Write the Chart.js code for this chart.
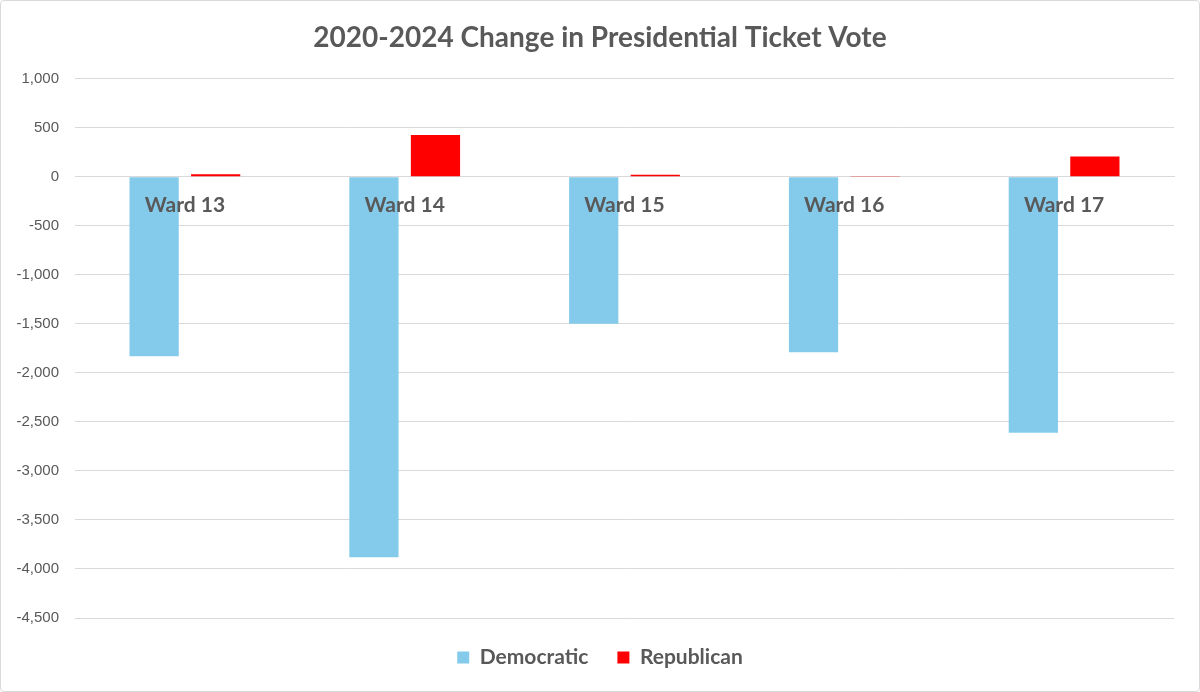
<!DOCTYPE html>
<html>
<head>
<meta charset="utf-8">
<title>2020-2024 Change in Presidential Ticket Vote</title>
<script src="https://cdn.jsdelivr.net/npm/chart.js@4.4.1/dist/chart.umd.min.js"></script>
<style>
  html, body { margin: 0; padding: 0; background: #fff; }
  #wrap {
    width: 1200px; height: 692px; box-sizing: border-box;
    border: 1px solid #d9d9d9; border-radius: 4px; position: relative;
  }
  canvas { display: block; }
</style>
</head>
<body>
<div id="wrap"><canvas id="voteChart"></canvas></div>
<script>
  // --- Data ---
  const wards = ["Ward 13", "Ward 14", "Ward 15", "Ward 16", "Ward 17"];
  const demChange = [-1830, -3880, -1500, -1790, -2610];
  const repChange = [25, 425, 20, 8, 205];

  const textColor = "#595959";
  const gridColor = "#d9d9d9";

  const ctxEl = document.getElementById("voteChart");

  new Chart(ctxEl, {
    type: "bar",
    data: {
      labels: wards,
      datasets: [
        { label: "Democratic", data: demChange, backgroundColor: "#84cbeb" },
        { label: "Republican", data: repChange, backgroundColor: "#ff0000" }
      ]
    },
    options: {
      responsive: true,
      maintainAspectRatio: false,
      animation: false,
      // symmetric padding so the title stays centred on the canvas
      layout: { padding: { top: 20, left: 12, right: 12, bottom: 13 } },
      datasets: { bar: { categoryPercentage: 0.56, barPercentage: 0.8 } },
      plugins: {
        title: {
          display: true,
          text: "2020-2024 Change in Presidential Ticket Vote",
          color: textColor,
          font: { family: "Lato", size: 28, weight: "bold" },
          padding: { top: 0, bottom: 24 }
        },
        legend: {
          position: "bottom",
          labels: {
            color: textColor,
            font: { family: "Lato", size: 21, weight: "bold" },
            boxWidth: 12,
            boxHeight: 12,
            padding: 29
          }
        },
        tooltip: { enabled: false }
      },
      scales: {
        x: {
          position: { y: 0 },
          grid: { display: false, drawTicks: false },
          border: { display: true, color: gridColor },
          ticks: {
            z: 1, // draw ward names over the bars
            color: textColor,
            padding: 16,
            font: { family: "Lato", size: 21, weight: "bold" }
          }
        },
        y: {
          min: -4500,
          max: 1000,
          grid: { color: gridColor, drawTicks: false },
          border: { display: false },
          afterFit: s => { s.width = 62; },
          ticks: {
            stepSize: 500,
            padding: 16,
            color: textColor,
            font: { family: "Liberation Sans", size: 15 },
            callback: v => v.toLocaleString("en-US")
          }
        },
        // empty right axis, only used as right-hand margin
        yRight: {
          position: "right",
          min: -4500,
          max: 1000,
          grid: { display: false, drawTicks: false },
          border: { display: false },
          ticks: { display: false },
          afterFit: s => { s.width = 13; }
        }
      }
    }
  });
</script>
</body>
</html>
